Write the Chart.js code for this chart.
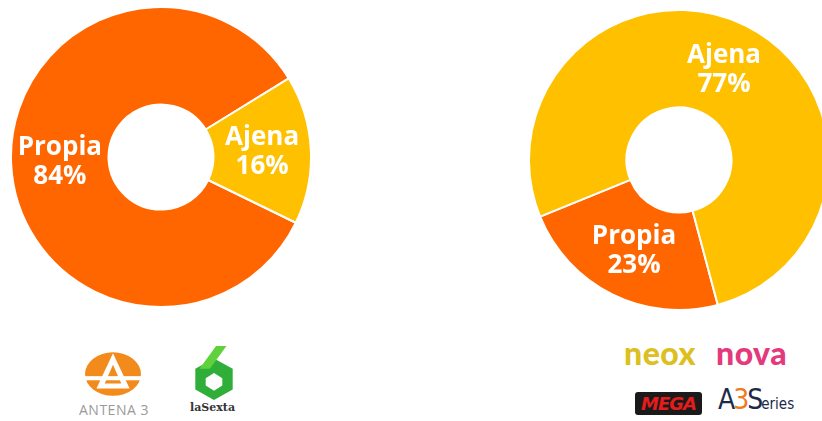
<!DOCTYPE html>
<html lang="es">
<head>
<meta charset="UTF-8">
<title>Producción propia vs ajena</title>
<script src="https://cdn.jsdelivr.net/npm/chart.js@4"></script>
<style>
  body { margin: 0; width: 822px; height: 421px; background: #fff; position: relative; overflow: hidden; font-family: "Open Sans", sans-serif; }
  .wrap { position: absolute; width: 302px; height: 302px; }
  #left { left: 10px; top: 6px; }
  #right { left: 528px; top: 9px; }
  .logo { position: absolute; }
  .a3shape { left: 84px; top: 347px; width: 58px; height: 50px; }
  .a3text { left: 79px; top: 400px; font-size: 14px; color: #9a9a9a; letter-spacing: 0.5px; }
  .sexshape { left: 191px; top: 346px; width: 46px; height: 54px; }
  .sextext { left: 190px; top: 401px; font-family: "DejaVu Serif", serif; font-weight: bold; font-size: 11px; color: #333; }
  .neox { left: 624px; top: 333px; font-family: "Lato", sans-serif; font-weight: 900; font-size: 32px; color: #dcc022; letter-spacing: 0.5px; }
  .nova { left: 716px; top: 333px; font-family: "Lato", sans-serif; font-weight: 900; font-size: 32px; color: #e33a7e; letter-spacing: 0.5px; }
  .mega { left: 635px; top: 392px; width: 67px; height: 23px; background: #1a1a1a; border-radius: 3px; color: #e51c1c; font-family: "DejaVu Sans", sans-serif; font-weight: bold; font-size: 18px; line-height: 23px; text-align: center; letter-spacing: -1px; font-style: italic; }
  .a3s { left: 718px; top: 383px; font-family: "DejaVu Sans Condensed", sans-serif; font-size: 28px; color: #1d2a4a; letter-spacing: -2px; }
  .a3s b { color: #f07a20; font-weight: normal; }
  .a3s small { font-size: 15px; letter-spacing: 0; color: #1d2a4a; }
</style>
</head>
<body>
<div class="wrap" id="left"><canvas id="chartLeft"></canvas></div>
<div class="wrap" id="right"><canvas id="chartRight"></canvas></div>

<svg class="logo a3shape" viewBox="0 0 56 48">
  <ellipse cx="28" cy="26" rx="27" ry="21" fill="#f28a1c"/>
  <polygon points="28,6 44,40 12,40" fill="#fff"/>
  <polygon points="28,17 36,35 20,35" fill="#f28a1c"/>
  <rect x="0" y="28" width="56" height="4" fill="#fff"/>
</svg>
<div class="logo a3text">ANTENA 3</div>

<svg class="logo sexshape" viewBox="0 0 44 52">
  <polygon points="22,12 40,22 40,42 22,52 4,42 4,22" fill="#2fae3a"/>
  <polygon points="8,22 24,0 34,0 18,22" fill="#5fd13c"/>
  <polygon points="22,26 30,31 30,38 22,43 14,38 14,31" fill="#fff"/>
</svg>
<div class="logo sextext">laSexta</div>

<div class="logo neox">neox</div>
<div class="logo nova">nova</div>
<div class="logo mega">MEGA</div>
<div class="logo a3s">A<b>3</b>S<small>eries</small></div>

<script>
  const categories = ['Propia', 'Ajena'];
  const leftValues = [84, 16];
  const rightValues = [23, 77];
  const sliceColors = ['#ff6600', '#ffc000'];

  // white label "Nombre\nNN%" at the middle of each slice
  const sliceLabels = {
    id: 'sliceLabels',
    afterDatasetsDraw(chart) {
      const ctx = chart.ctx;
      const ds = chart.data.datasets[0];
      chart.getDatasetMeta(0).data.forEach((arc, i) => {
        const p = arc.tooltipPosition();
        ctx.save();
        ctx.fillStyle = '#fff';
        ctx.font = 'bold 26px "Open Sans", sans-serif';
        ctx.textAlign = 'center';
        ctx.textBaseline = 'middle';
        ctx.fillText(chart.data.labels[i], p.x, p.y - 14);
        ctx.fillText(ds.data[i] + '%', p.x, p.y + 15);
        ctx.restore();
      });
    }
  };

  function makeDonut(id, values, rotation) {
    return new Chart(document.getElementById(id), {
      type: 'doughnut',
      data: {
        labels: categories,
        datasets: [{
          data: values,
          backgroundColor: sliceColors,
          borderColor: '#fff',
          borderWidth: 2
        }]
      },
      options: {
        responsive: true,
        maintainAspectRatio: false,
        animation: false,
        cutout: '35%',
        rotation: rotation,
        layout: { padding: 0 },
        plugins: { legend: { display: false }, tooltip: { enabled: false } }
      },
      plugins: [sliceLabels]
    });
  }

  makeDonut('chartLeft', leftValues, 116);
  makeDonut('chartRight', rightValues, 165);
</script>
</body>
</html>
